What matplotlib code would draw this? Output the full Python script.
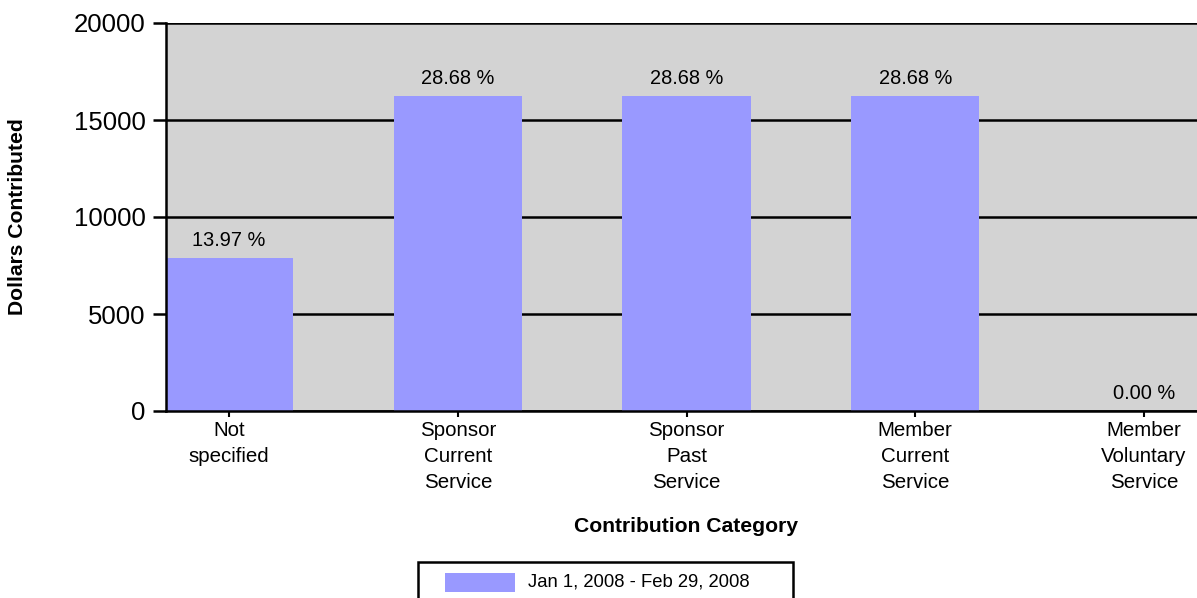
import matplotlib
matplotlib.use("Agg")
import matplotlib.pyplot as plt
import matplotlib.patches as mpatches

# ================= DATA =================
CATEGORIES = ["Not\nspecified", "Sponsor\nCurrent\nService", "Sponsor\nPast\nService",
              "Member\nCurrent\nService", "Member\nVoluntary\nService"]
DOLLARS = [7910, 16235, 16235, 16235, 0]
PERCENT_LABELS = ["13.97 %", "28.68 %", "28.68 %", "28.68 %", "0.00 %"]
SERIES_NAME = "Jan 1, 2008 - Feb 29, 2008"
Y_TICKS = [0, 5000, 10000, 15000, 20000]

BAR_COLOR = "#9999ff"
PLOT_BG = "#d3d3d3"

plt.rcParams["font.family"] = ["Liberation Sans", "DejaVu Sans"]

fig = plt.figure(figsize=(11.97, 5.98), dpi=100)
W, H = 1197, 598
ax = fig.add_axes([166 / W, 1 - 411 / H, (1207 - 166) / W, (411 - 23) / H])
ax.set_facecolor(PLOT_BG)

x = list(range(len(CATEGORIES)))
ax.bar(x, DOLLARS, width=0.56, color=BAR_COLOR, zorder=3)

for xi, val, lab in zip(x, DOLLARS, PERCENT_LABELS):
    ax.annotate(lab, (xi, val), xytext=(0, 12.5), textcoords="offset points",
                ha="center", va="center", fontsize=14.4, zorder=4)

ax.set_xlim(-0.276, 4.276)
ax.set_ylim(0, 20000)
ax.set_yticks(Y_TICKS)
ax.set_xticks(x)
ax.set_xticklabels(CATEGORIES, fontsize=14.8, linespacing=1.45)
ax.tick_params(axis="y", labelsize=18.5, length=9.5, width=1.8, pad=5)
ax.tick_params(axis="x", length=4.5, width=1.5, pad=3)

ax.grid(axis="y", color="black", linewidth=1.8, zorder=1)
ax.set_axisbelow(True)
for side in ["top", "right"]:
    ax.spines[side].set_visible(False)
for side in ["left", "bottom"]:
    ax.spines[side].set_linewidth(1.8)
    ax.spines[side].set_zorder(5)

fig.text(686 / W, 1 - 526 / H, "Contribution Category", ha="center", va="center",
         fontsize=15.2, fontweight="bold")
fig.text(18 / W, 1 - 217 / H, "Dollars Contributed", ha="center", va="center",
         rotation=90, fontsize=15.2, fontweight="bold")

# legend box (drawn by hand so it can run off the bottom edge like the original)
frame = mpatches.Rectangle((418 / W, 1 - 612 / H), 375 / W, 50 / H,
                           transform=fig.transFigure, facecolor="white",
                           edgecolor="black", linewidth=1.8, clip_on=False)
fig.patches.append(frame)
swatch = mpatches.Rectangle((445 / W, 1 - 592 / H), 70 / W, 19 / H,
                            transform=fig.transFigure, facecolor=BAR_COLOR,
                            edgecolor="none")
fig.patches.append(swatch)
fig.text(528 / W, 1 - 582 / H, SERIES_NAME, ha="left", va="center", fontsize=13.3)

fig.savefig("out.png", dpi=100)
